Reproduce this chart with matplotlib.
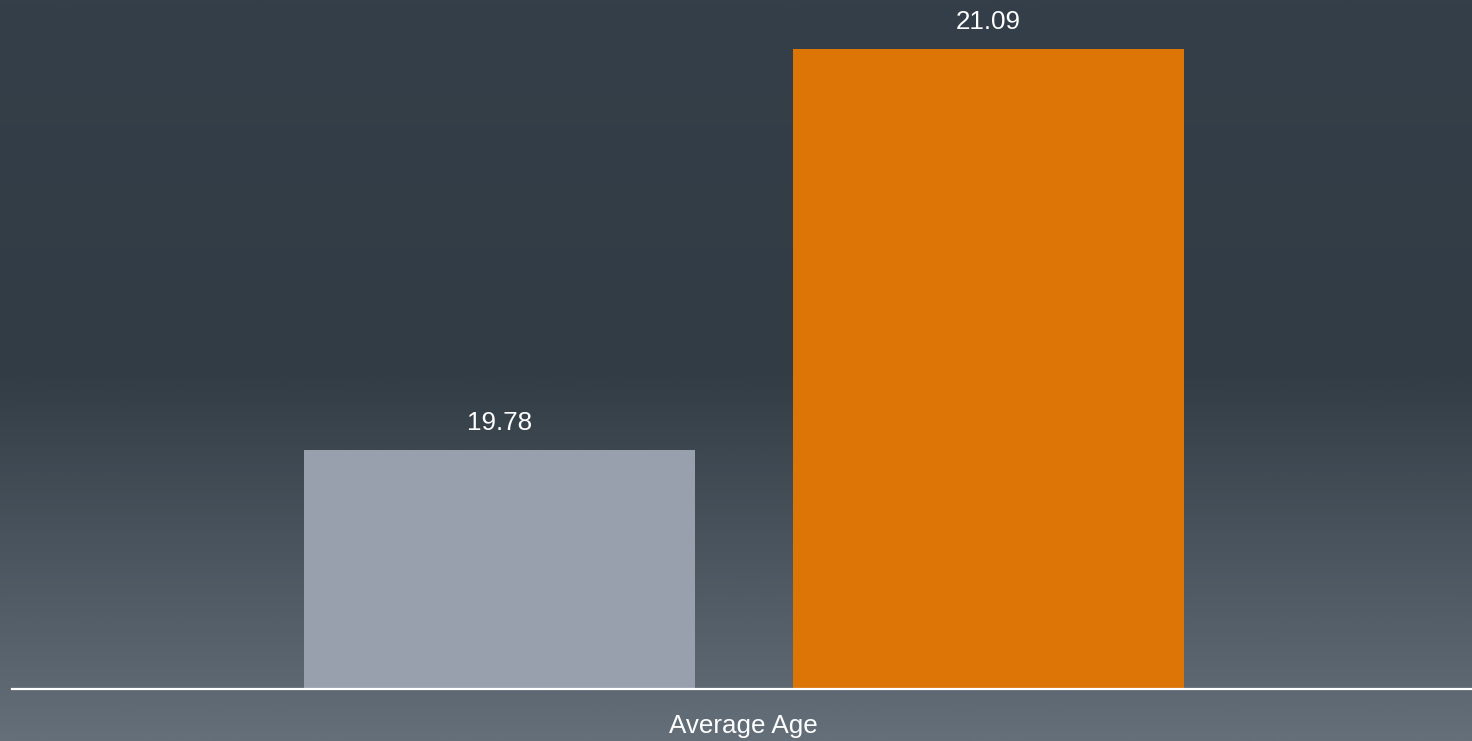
import numpy as np
import matplotlib
matplotlib.use("Agg")
import matplotlib.pyplot as plt
from matplotlib.colors import LinearSegmentedColormap

categories = ["Average Age"]
series_values = [19.78, 21.09]
series_colors = ["#97a0ac", "#dc7406"]
value_labels = ["19.78", "21.09"]

plt.rcParams['font.family'] = ['Liberation Sans', 'DejaVu Sans']

W, H = 1472, 741
fig = plt.figure(figsize=(W / 100, H / 100), dpi=100)

# background gradient
bg = fig.add_axes([0, 0, 1, 1], zorder=0)
cmap = LinearSegmentedColormap.from_list(
    "bg", [(0.0, "#353f49"), (0.5, "#313c45"), (1.0, "#646f79")])
grad = np.linspace(0, 1, 512).reshape(-1, 1)
bg.imshow(grad, aspect="auto", cmap=cmap, extent=[0, 1, 0, 1], origin="upper")
bg.set_axis_off()

# main axes
left = 12 / W
bottom = (H - 689) / H
ax = fig.add_axes([left, bottom, 1 - left, 1 - bottom], zorder=1)
ax.patch.set_alpha(0)

n = len(series_values)
offsets = np.arange(n) - (n - 1) / 2
bars = ax.bar(offsets, [v - 19.0 for v in series_values], bottom=19.0,
              width=0.8, color=series_colors, zorder=2)
for b, lab in zip(bars, value_labels):
    ax.annotate(lab, (b.get_x() + b.get_width() / 2, b.get_y() + b.get_height()),
                xytext=(0, 14.4), textcoords="offset points",
                ha="center", va="baseline", color="white", fontsize=18.7)

ax.set_ylim(19.0, 21.25)
ax.set_xlim(-1.497, 1.489)
for s in ["top", "right", "left"]:
    ax.spines[s].set_visible(False)
ax.spines["bottom"].set_color("white")
ax.spines["bottom"].set_linewidth(1.6)
ax.spines["bottom"].set_zorder(3)
ax.set_yticks([])
ax.set_xticks([])

fig.text(743 / W, (H - 733) / H, categories[0], ha="center", va="baseline",
         color="white", fontsize=18.7)

fig.savefig("out.png", dpi=100)
